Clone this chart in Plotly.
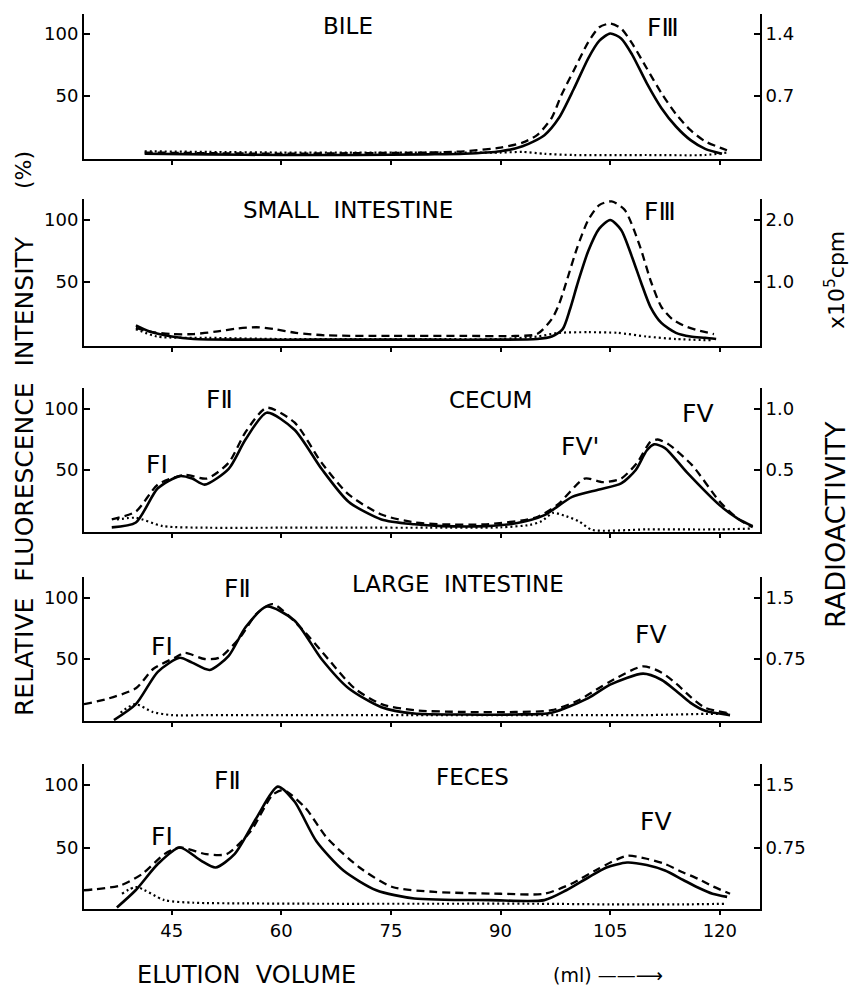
import plotly.graph_objects as go

W, H = 851, 995

# ---------------- data (ml, relative fluorescence %, radioactivity x10^5 cpm) -------------
bile_x_solid = [41.3, 50, 60, 70, 80, 85, 90, 93, 96, 98, 100, 102, 103.5, 105, 106.5, 108, 110, 112, 114, 116, 118, 120.3]
bile_solid = [3, 2.5, 2, 2, 2.5, 3, 5, 9, 18, 32, 55, 80, 94, 100, 96, 83, 60, 40, 25, 14, 7, 3]
bile_x_dash = [41.3, 50, 60, 70, 80, 85, 90, 93, 95, 97, 98.3, 100, 102, 103.5, 105, 106.5, 108, 110, 112, 114, 116, 118, 120, 121.4]
bile_dash = [4, 3.5, 3, 3.5, 4, 5, 8, 12, 18, 32, 50, 70, 93, 105, 108, 104, 92, 72, 52, 35, 22, 13, 8, 5]
bile_x_dot = [41.3, 50, 60, 70, 80, 90, 93, 96, 100, 110, 118, 121]
bile_dot = [0.07, 0.063, 0.056, 0.056, 0.056, 0.056, 0.063, 0.042, 0.028, 0.028, 0.028, 0.056]

si_x_solid = [40.1, 42, 45, 48, 55, 65, 80, 90, 95, 97, 98.5, 99.5, 100.6, 102, 103.5, 105, 106.5, 108, 109.2, 110.5, 112, 114, 116, 118, 119.5]
si_solid = [15, 10, 6, 4, 3.5, 3.5, 3.5, 3.5, 4, 6, 12, 28, 50, 75, 93, 100, 92, 70, 50, 30, 17, 9, 6, 5, 4]
si_x_dash = [40.1, 42, 45, 48, 51, 54, 56.6, 59, 62, 66, 75, 85, 92, 95, 97, 98, 99, 100.5, 102, 103.5, 105.2, 107, 109, 110.6, 112, 113.5, 115, 117, 119.2]
si_dash = [13, 10, 8, 8, 10, 12.5, 13.5, 12, 9, 7, 6.5, 6.5, 6.5, 8, 20, 32, 50, 78, 100, 112, 115, 108, 80, 50, 30, 20, 15, 11, 8]
si_x_dot = [40.1, 43, 50, 60, 70, 80, 90, 95, 98, 102, 106, 110, 114, 119]
si_dot = [0.24, 0.12, 0.10, 0.08, 0.08, 0.08, 0.08, 0.12, 0.18, 0.19, 0.18, 0.12, 0.08, 0.06]

ce_x_solid = [36.8, 40.1, 43.1, 46.1, 47.8, 49.5, 52.8, 55.1, 58, 61.8, 65.5, 69.2, 73.7, 78.2, 82, 88, 92.3, 96, 99.8, 103.5, 106.5, 108.5, 110, 111, 112.5, 115.5, 120, 122.5, 124.5]
ce_solid = [3, 7, 35, 45, 43, 38, 51, 75, 97, 83, 51, 24, 9.5, 5.5, 4, 4, 6.5, 13, 28, 34, 39, 50, 66, 71, 68, 48, 21, 10, 4]
ce_x_dash = [36.8, 40.1, 43.1, 46.8, 49.8, 52.8, 55.1, 58, 61.8, 65.5, 69.2, 73.7, 78.2, 82, 88, 94.8, 97.8, 101.5, 104, 106.5, 108.7, 110.5, 111.5, 113, 116.2, 120, 122.5, 124.5]
ce_dash = [9.5, 16, 38, 46, 43, 56, 81, 101, 89, 56, 30, 13.5, 7, 5.5, 5.5, 11, 21.5, 43, 40, 43, 56, 73, 75, 71, 54, 24, 10, 3]
ce_x_dot = [37.5, 40.1, 43.8, 50, 60, 70, 80, 90, 94, 95.6, 97.2, 99, 100.7, 102.5, 110, 120, 124.5]
ce_dot = [0.094, 0.108, 0.04, 0.027, 0.027, 0.027, 0.027, 0.03, 0.05, 0.08, 0.148, 0.12, 0.08, 0.01, 0.013, 0.013, 0.02]

li_x_solid = [37.1, 40.1, 43.1, 46.1, 47.8, 50.2, 52.8, 55.1, 58, 61.8, 65.5, 69.2, 73.7, 78.2, 85, 92, 97, 102, 105, 109.5, 112, 114, 116, 118, 121.4]
li_solid = [0, 13, 39.5, 51, 47, 41, 52.6, 76, 93, 81.6, 50, 26, 10.5, 5.3, 4.5, 4.5, 6, 18, 29, 38, 33, 24, 14, 7.5, 4]
li_x_dash = [33, 36, 40.1, 42.5, 45.4, 46.8, 49.5, 51.5, 54.4, 56.6, 58.8, 62.6, 66.4, 70, 73.7, 78.2, 85, 92, 97, 100.6, 105, 109.5, 112, 114, 116, 118, 121.4]
li_dash = [13, 17, 26, 42, 51, 55, 50, 51, 68, 87, 95, 76, 50, 26, 13, 8, 6.6, 6.6, 8, 16, 31.6, 44, 39, 30, 19, 10, 5.3]
li_x_dot = [38, 40, 42.4, 45, 50, 60, 70, 80, 90, 100, 110, 118, 121.4]
li_dot = [0.09, 0.195, 0.099, 0.06, 0.06, 0.06, 0.06, 0.06, 0.06, 0.06, 0.06, 0.075, 0.075]

fe_x_solid = [37.5, 40.1, 43.1, 46.1, 49, 51, 53.6, 56.6, 59.5, 61.8, 64.8, 68.5, 73, 78.2, 88.6, 96, 99, 102, 104.5, 107.3, 110, 112.5, 115, 117, 119, 121]
fe_solid = [2, 16, 36.8, 50, 39.5, 34, 44.7, 73.7, 98.7, 86.8, 55, 31.6, 15.8, 9.2, 7.9, 7.9, 15.8, 26, 34, 38, 36, 31.6, 24, 18, 13, 10.5]
fe_x_dash = [33, 38, 41, 44, 46.1, 49.7, 52.5, 55.8, 58.8, 60.3, 63.3, 66.2, 70.7, 75.2, 81, 90, 96, 99.7, 103.4, 107.3, 110, 112.5, 115, 117, 119, 121.4]
fe_dash = [15.8, 19.7, 29, 44.7, 50, 44.7, 44.7, 63, 92, 96, 81.6, 58, 34, 18.4, 14.5, 13, 13, 21, 33, 43.4, 41, 36.8, 30, 25, 19, 13]
fe_x_dot = [38.2, 40.1, 44, 48, 55, 65, 80, 95, 105, 110, 115, 121]
fe_dot = [0.195, 0.276, 0.1185, 0.087, 0.0795, 0.075, 0.075, 0.075, 0.0675, 0.0675, 0.0675, 0.075]

panel_titles = ["BILE", "SMALL  INTESTINE", "CECUM", "LARGE  INTESTINE", "FECES"]
right_top_values = [1.4, 2.0, 1.0, 1.5, 1.5]          # right-axis value at 100 %
right_tick_labels = [["0.7", "1.4"], ["1.0", "2.0"], ["0.5", "1.0"], ["0.75", "1.5"], ["0.75", "1.5"]]
x_ticks = [45, 60, 75, 90, 105, 120]

panels = [
    (bile_x_solid, bile_solid, bile_x_dash, bile_dash, bile_x_dot, bile_dot),
    (si_x_solid, si_solid, si_x_dash, si_dash, si_x_dot, si_dot),
    (ce_x_solid, ce_solid, ce_x_dash, ce_dash, ce_x_dot, ce_dot),
    (li_x_solid, li_solid, li_x_dash, li_dash, li_x_dot, li_dot),
    (fe_x_solid, fe_solid, fe_x_dash, fe_dash, fe_x_dot, fe_dot),
]

# ---------------- geometry (pixels) -------------
X_LEFT_PX, X_RIGHT_PX = 84, 760
X_RANGE = [33, 125.5]
# (zero pixel, px per unit, top px, bottom px)
geom = [
    (157.5, 1.24, 14, 159),
    (344.0, 1.24, 199, 346),
    (531.0, 1.22, 388, 532),
    (720.0, 1.22, 577, 721),
    (910.0, 1.25, 764, 909),
]

FONT = "DejaVu Sans"
fig = go.Figure()
layout = dict(
    width=W, height=H, margin=dict(l=0, r=0, t=0, b=0),
    paper_bgcolor="white", plot_bgcolor="white", showlegend=False,
    font=dict(family=FONT, color="black"),
)
annotations = []


def note(text, x, y, size, angle=0):
    annotations.append(dict(text=text, x=x / W, y=1 - y / H, xref="paper", yref="paper",
                            xanchor="center", yanchor="middle", showarrow=False,
                            textangle=angle, font=dict(size=size, family=FONT, color="black")))


for i, (xs, ys, xd, yd, xo, yo) in enumerate(panels):
    n = i + 1
    z, s, t, b = geom[i]
    yr = [(z - b) / s, (z - t) / s]
    dom = [1 - b / H, 1 - t / H]
    xa = "x" if n == 1 else f"x{n}"
    ya = "y" if n == 1 else f"y{n}"
    ya2 = f"y{n + 5}"
    layout[f"xaxis{'' if n == 1 else n}"] = dict(
        domain=[X_LEFT_PX / W, X_RIGHT_PX / W], range=X_RANGE, anchor=ya,
        showline=True, linecolor="black", linewidth=2, showgrid=False, zeroline=False,
        tickvals=x_ticks, ticks="outside", ticklen=4, tickwidth=1.5, tickcolor="black",
        showticklabels=(n == 5), tickfont=dict(size=18, family=FONT),
    )
    layout[f"yaxis{'' if n == 1 else n}"] = dict(
        domain=dom, range=yr, anchor=xa, showline=True, linecolor="black", linewidth=2,
        showgrid=False, zeroline=False, tickvals=[50, 100], ticktext=["50", "100"],
        ticks="inside", ticklen=6, tickwidth=1.5, tickcolor="black",
        tickfont=dict(size=18, family=FONT),
    )
    R = right_top_values[i]
    layout[f"yaxis{n + 5}"] = dict(
        domain=dom, range=[v * R / 100 for v in yr], anchor=xa, overlaying=ya, side="right",
        showline=True, linecolor="black", linewidth=2, showgrid=False, zeroline=False,
        tickvals=[R / 2, R], ticktext=right_tick_labels[i],
        ticks="inside", ticklen=6, tickwidth=1.5, tickcolor="black",
        tickfont=dict(size=18, family=FONT),
    )
    fig.add_trace(go.Scatter(x=xs, y=ys, mode="lines", xaxis=xa, yaxis=ya,
                             line=dict(color="black", width=2.6, shape="spline", smoothing=0.7)))
    fig.add_trace(go.Scatter(x=xd, y=yd, mode="lines", xaxis=xa, yaxis=ya,
                             line=dict(color="black", width=2.3, dash="8px,5px", shape="spline", smoothing=0.7)))
    fig.add_trace(go.Scatter(x=xo, y=yo, mode="lines", xaxis=xa, yaxis=ya2,
                             line=dict(color="black", width=2.2, dash="2px,3px", shape="spline", smoothing=0.7)))

# panel titles
title_pos = [(348, 26), (348, 210), (490, 400), (458, 584), (472, 777)]
for txt, (x, y) in zip(panel_titles, title_pos):
    note(txt, x, y, 23)

peak_labels = [
    ("FⅢ", 663, 28), ("FⅢ", 660, 212),
    ("FⅠ", 157, 464), ("FⅡ", 219, 400), ("FⅤ'", 580, 446), ("FⅤ", 697, 413),
    ("FⅠ", 162, 646), ("FⅡ", 238, 588), ("FⅤ", 650, 634),
    ("FⅠ", 162, 836), ("FⅡ", 227, 780), ("FⅤ", 655, 821),
]
for txt, x, y in peak_labels:
    note(txt, x, y, 25)

# axis titles
note("RELATIVE  FLUORESCENCE  INTENSITY", 24, 476, 25, -90)
note("(%)", 24, 170, 22, -90)
note("RADIOACTIVITY", 835, 525, 27, -90)
note("x10<sup>5</sup>cpm", 835, 280, 22, -90)
note("ELUTION  VOLUME", 246, 975, 24)
note("(ml) ——⟶", 608, 975, 19)

layout["annotations"] = annotations
fig.update_layout(**layout)
fig.write_html("out.html")
